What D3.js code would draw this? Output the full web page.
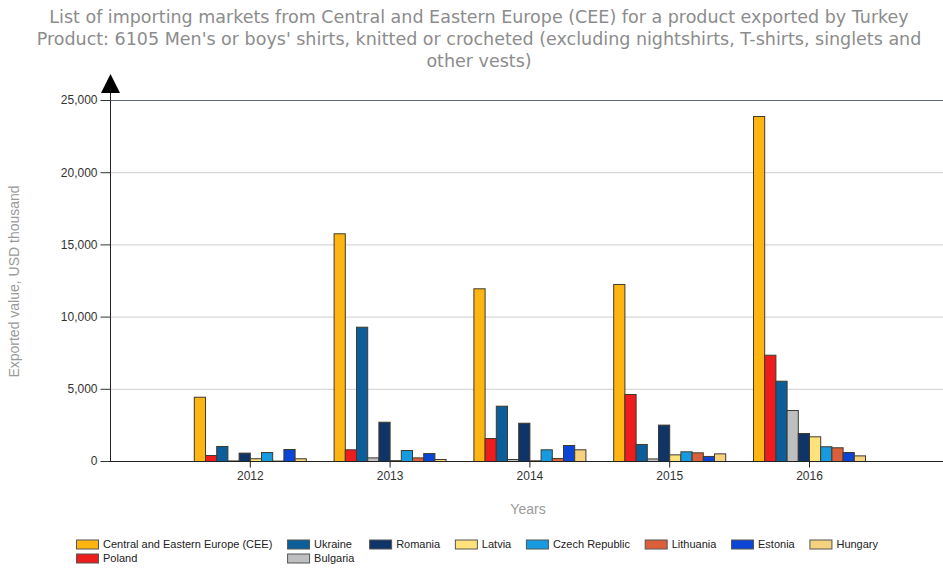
<!DOCTYPE html>
<html>
<head>
<meta charset="utf-8">
<script src="https://cdn.jsdelivr.net/npm/d3@7/dist/d3.min.js"></script>
<style>
  html, body { margin: 0; padding: 0; background: #fff; }
  svg { display: block; }
</style>
</head>
<body>
<svg id="chart" width="943" height="568"></svg>
<script>
// Export data: Turkey, HS 6105, importing markets in Central and Eastern Europe
const years = ["2012", "2013", "2014", "2015", "2016"];
const seriesNames = ["Central and Eastern Europe (CEE)", "Poland", "Ukraine", "Bulgaria", "Romania",
                     "Latvia", "Czech Republic", "Lithuania", "Estonia", "Hungary"];
const seriesColors = ["#FFB511", "#EE1C1C", "#0B5E99", "#BEBFC1", "#0E3468",
                      "#FFE37A", "#169AE0", "#DB5F3B", "#0A45D6", "#F6D27E"];
const cee       = [4450, 15770, 11960, 12260, 23890];
const poland    = [415, 810, 1590, 4640, 7360];
const ukraine   = [1040, 9300, 3830, 1180, 5560];
const bulgaria  = [40, 250, 140, 180, 3530];
const romania   = [580, 2720, 2650, 2520, 1940];
const latvia    = [190, 60, 50, 460, 1710];
const czech     = [620, 760, 810, 670, 1020];
const lithuania = [30, 250, 210, 600, 950];
const estonia   = [830, 550, 1110, 350, 620];
const hungary   = [190, 140, 810, 530, 390];
const seriesValues = [cee, poland, ukraine, bulgaria, romania, latvia, czech, lithuania, estonia, hungary];
const yTicks = [0, 5000, 10000, 15000, 20000, 25000];
// legend: first row, then second row (placed under the first two columns)
const legendRow1 = [0, 2, 4, 5, 6, 7, 8, 9];
const legendRow2 = [1, 3];

const titleLines = [
  "List of importing markets from Central and Eastern Europe (CEE) for a product exported by Turkey",
  "Product: 6105 Men's or boys' shirts, knitted or crocheted (excluding nightshirts, T-shirts, singlets and",
  "other vests)"
];

const svg = d3.select("#chart");
const W = 943;
const plot = { left: 110, top: 100, bottom: 461 };
const step = 139.8;

const x = d3.scalePoint().domain(years).range([plot.left, plot.left + step * 6]).padding(1);
const y = d3.scaleLinear().domain([0, 25000]).range([plot.bottom, plot.top]);
const inner = d3.scaleBand().domain(d3.range(seriesNames.length)).range([-56, 56]).padding(0);

// title
svg.append("g").selectAll("text").data(titleLines).join("text")
  .attr("x", 479).attr("y", (d, i) => 23 + i * 22)
  .attr("text-anchor", "middle")
  .attr("font-family", "DejaVu Sans, Verdana, sans-serif")
  .attr("font-size", 17.5)
  .attr("fill", "#8c8c8c")
  .text(d => d);

// gridlines
svg.append("g").selectAll("line").data(yTicks.filter(t => t > 0 && t < 25000)).join("line")
  .attr("x1", plot.left).attr("x2", W)
  .attr("y1", d => y(d) + 0.5).attr("y2", d => y(d) + 0.5)
  .attr("stroke", "#cfcfcf").attr("stroke-width", 1);

// top frame line
svg.append("line")
  .attr("x1", plot.left).attr("x2", W)
  .attr("y1", y(25000) + 0.5).attr("y2", y(25000) + 0.5)
  .attr("stroke", "#5b6b7a").attr("stroke-width", 1.2);

// bars
const groups = svg.append("g").selectAll("g").data(years).join("g")
  .attr("transform", d => `translate(${x(d)},0)`);
groups.selectAll("rect")
  .data((yr, yi) => seriesValues.map((vals, si) => ({ si, v: vals[yi] })))
  .join("rect")
  .attr("x", d => inner(d.si) + 0.5)
  .attr("width", inner.bandwidth())
  .attr("y", d => y(d.v) + 0.5)
  .attr("height", d => Math.max(0, y(0) - y(d.v)))
  .attr("fill", d => seriesColors[d.si])
  .attr("stroke", "#3f3a2e").attr("stroke-width", 1);

// x axis
const xAxis = svg.append("g")
  .attr("transform", `translate(0,${plot.bottom + 0.5})`)
  .call(d3.axisBottom(x).tickSize(6).tickSizeOuter(0).tickPadding(4));
xAxis.select(".domain").attr("d", `M${plot.left},0H${W}`).attr("stroke", "#222");
xAxis.selectAll(".tick line").attr("stroke", "#222");
xAxis.selectAll(".tick text")
  .attr("font-family", "Liberation Sans, Arial, sans-serif")
  .attr("font-size", 12).attr("fill", "#333");

// y axis
const yAxis = svg.append("g")
  .attr("transform", `translate(${plot.left + 0.5},0)`)
  .call(d3.axisLeft(y).tickValues(yTicks).tickFormat(d3.format(",")).tickSize(10).tickSizeOuter(0).tickPadding(3));
yAxis.select(".domain").attr("d", `M0,${plot.bottom}V${plot.top - 8}`).attr("stroke", "#222");
yAxis.selectAll(".tick line").attr("stroke", "#333");
yAxis.selectAll(".tick text")
  .attr("font-family", "Liberation Sans, Arial, sans-serif")
  .attr("font-size", 12).attr("fill", "#333");

// arrow head on the value axis
svg.append("path")
  .attr("d", `M${plot.left + 0.5},${plot.top - 26}L${plot.left + 10},${plot.top - 7}L${plot.left - 9},${plot.top - 7}Z`)
  .attr("fill", "#000");

// axis titles
svg.append("text")
  .attr("transform", `translate(19,${(plot.top + plot.bottom) / 2 + 1}) rotate(-90)`)
  .attr("text-anchor", "middle")
  .attr("font-family", "Liberation Sans, Arial, sans-serif")
  .attr("font-size", 14).attr("fill", "#9a9a9a")
  .text("Exported value, USD thousand");
svg.append("text")
  .attr("x", 528).attr("y", 514)
  .attr("text-anchor", "middle")
  .attr("font-family", "Liberation Sans, Arial, sans-serif")
  .attr("font-size", 14).attr("fill", "#9a9a9a")
  .text("Years");

// legend
const legend = svg.append("g");
const sw = 22, sh = 9, gap = 5, colGap = 14.7;
let cx = 76;
const measure = legend.append("text")
  .attr("font-family", "Liberation Sans, Arial, sans-serif").attr("font-size", 11);
function textW(s) { measure.text(s); return measure.node().getComputedTextLength(); }
const rowsY = [544, 558];
legendRow1.forEach((si, col) => {
  const below = legendRow2[col];
  const items = below === undefined ? [si] : [si, below];
  let maxW = 0;
  items.forEach((idx, r) => {
    const g = legend.append("g").attr("transform", `translate(${cx},${rowsY[r]})`);
    g.append("rect").attr("x", 0.5).attr("y", -sh / 2 + 0.5).attr("width", sw).attr("height", sh)
      .attr("fill", seriesColors[idx]).attr("stroke", "#555").attr("stroke-width", 1);
    g.append("text").attr("x", sw + gap).attr("y", 4)
      .attr("font-family", "Liberation Sans, Arial, sans-serif").attr("font-size", 11)
      .attr("fill", "#222").text(seriesNames[idx]);
    maxW = Math.max(maxW, textW(seriesNames[idx]));
  });
  cx += sw + gap + maxW + colGap;
});
measure.remove();
</script>
</body>
</html>
